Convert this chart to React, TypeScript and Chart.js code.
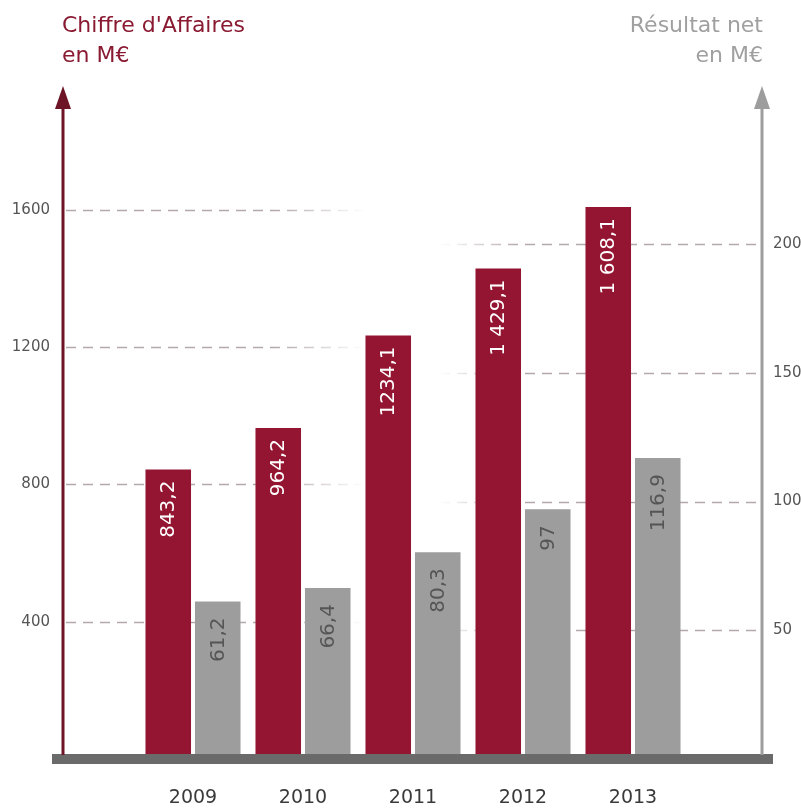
import React, { useEffect, useRef } from "react";
import { Chart, registerables } from "chart.js";

Chart.register(...registerables);

const years = ["2009", "2010", "2011", "2012", "2013"];
const chiffreAffaires = [843.2, 964.2, 1234.1, 1429.1, 1608.1];
const resultatNet = [61.2, 66.4, 80.3, 97, 116.9];
const caLabels = ["843,2", "964,2", "1234,1", "1 429,1", "1 608,1"];
const rnLabels = ["61,2", "66,4", "80,3", "97", "116,9"];
const leftTicks = [400, 800, 1200, 1600];
const rightTicks = [50, 100, 150, 200];

const RED = "#931532";
const GREY = "#9d9d9d";
const FONT = "DejaVu Sans";

const decorPlugin = {
  id: "decor",
  beforeDatasetsDraw(chart: any) {
    const { ctx, scales } = chart;
    ctx.save();
    ctx.lineWidth = 1.5;
    ctx.setLineDash([10, 7]);
    const full = "rgba(180,168,170,1)";
    const none = "rgba(180,168,170,0)";
    for (const v of leftTicks) {
      const y = Math.round(scales.yL.getPixelForValue(v)) + 0.5;
      const g = ctx.createLinearGradient(66, 0, 365, 0);
      g.addColorStop(0, full);
      g.addColorStop(0.7, full);
      g.addColorStop(1, none);
      ctx.strokeStyle = g;
      ctx.beginPath();
      ctx.moveTo(66, y);
      ctx.lineTo(365, y);
      ctx.stroke();
    }
    for (const v of rightTicks) {
      const y = Math.round(scales.yR.getPixelForValue(v)) + 0.5;
      const g = ctx.createLinearGradient(440, 0, 760, 0);
      g.addColorStop(0, none);
      g.addColorStop(0.25, full);
      g.addColorStop(1, full);
      ctx.strokeStyle = g;
      ctx.beginPath();
      ctx.moveTo(440, y);
      ctx.lineTo(760, y);
      ctx.stroke();
    }
    ctx.restore();
  },
  afterDatasetsDraw(chart: any) {
    const { ctx } = chart;
    ctx.save();
    const sets = [
      { labels: caLabels, color: "#ffffff", off: 11 },
      { labels: rnLabels, color: "#555555", off: 16 },
    ];
    sets.forEach((s, di) => {
      const meta = chart.getDatasetMeta(di);
      meta.data.forEach((bar: any, i: number) => {
        ctx.save();
        ctx.translate(bar.x, bar.y + s.off);
        ctx.rotate(-Math.PI / 2);
        ctx.fillStyle = s.color;
        ctx.font = `20px "${FONT}"`;
        ctx.textAlign = "right";
        ctx.textBaseline = "middle";
        ctx.fillText(s.labels[i], 0, 1);
        ctx.restore();
      });
    });
    ctx.fillStyle = "#6a6a6a";
    ctx.fillRect(52, 754, 721, 10);
    ctx.fillStyle = "#6d1526";
    ctx.fillRect(61.5, 100, 3, 655);
    ctx.beginPath();
    ctx.moveTo(63, 86);
    ctx.lineTo(55, 109);
    ctx.lineTo(71, 109);
    ctx.closePath();
    ctx.fill();
    ctx.fillStyle = "#9d9d9d";
    ctx.fillRect(760.5, 100, 3, 655);
    ctx.beginPath();
    ctx.moveTo(762, 86);
    ctx.lineTo(754, 109);
    ctx.lineTo(770, 109);
    ctx.closePath();
    ctx.fill();
    ctx.restore();
  },
};

export default function App() {
  const ref = useRef<HTMLCanvasElement | null>(null);
  useEffect(() => {
    if (!ref.current) return;
    const chart = new Chart(ref.current, {
      type: "bar",
      data: {
        labels: years,
        datasets: [
          {
            label: "Chiffre d'Affaires",
            data: chiffreAffaires,
            yAxisID: "yL",
            backgroundColor: RED,
            categoryPercentage: 0.9,
            barPercentage: 0.92,
          },
          {
            label: "Résultat net",
            data: resultatNet,
            yAxisID: "yR",
            backgroundColor: GREY,
            categoryPercentage: 0.9,
            barPercentage: 0.92,
          },
        ],
      },
      options: {
        responsive: true,
        maintainAspectRatio: false,
        animation: false,
        layout: { padding: { top: 100, left: 0, right: 0, bottom: 0 } },
        plugins: { legend: { display: false }, tooltip: { enabled: false } },
        scales: {
          x: {
            grid: { display: false, drawTicks: false },
            border: { display: false },
            ticks: { padding: 28, color: "#3a3a3a", font: { family: FONT, size: 19 } },
            afterFit: (s: any) => {
              s.height = 53;
            },
          },
          yL: {
            position: "left",
            min: 0,
            max: 1920,
            afterBuildTicks: (s: any) => {
              s.ticks = leftTicks.map((v) => ({ value: v }));
            },
            grid: { display: false, drawTicks: false },
            border: { display: false },
            ticks: {
              padding: 88,
              color: "#555",
              font: { family: FONT, size: 15 },
              callback: (v: any) => String(v),
            },
            afterFit: (s: any) => {
              s.width = 138;
              s.paddingTop = 0;
              s.paddingBottom = 0;
            },
          },
          yR: {
            position: "right",
            min: 0,
            max: 256,
            afterBuildTicks: (s: any) => {
              s.ticks = rightTicks.map((v) => ({ value: v }));
            },
            grid: { display: false, drawTicks: false },
            border: { display: false },
            ticks: {
              padding: 85,
              color: "#555",
              font: { family: FONT, size: 15 },
              callback: (v: any) => String(v),
            },
            afterFit: (s: any) => {
              s.width = 113;
              s.paddingTop = 0;
              s.paddingBottom = 0;
            },
          },
        },
      } as any,
      plugins: [decorPlugin],
    });
    return () => chart.destroy();
  }, []);

  return (
    <div
      style={{
        position: "absolute",
        left: 0,
        top: 0,
        width: 801,
        height: 812,
        background: "#fff",
        overflow: "hidden",
      }}
    >
      <div style={{ position: "absolute", left: 0, top: 0, width: 801, height: 812 }}>
        <canvas ref={ref} />
      </div>
      <div
        style={{
          position: "absolute",
          left: 62,
          top: 10,
          fontFamily: FONT,
          fontSize: 22,
          lineHeight: "30px",
          color: "#8a1a32",
          whiteSpace: "nowrap",
        }}
      >
        Chiffre d'Affaires
        <br />
        en M€
      </div>
      <div
        style={{
          position: "absolute",
          right: 38,
          top: 10,
          fontFamily: FONT,
          fontSize: 22,
          lineHeight: "30px",
          color: "#a0a0a0",
          textAlign: "right",
          whiteSpace: "nowrap",
        }}
      >
        Résultat net
        <br />
        en M€
      </div>
    </div>
  );
}
